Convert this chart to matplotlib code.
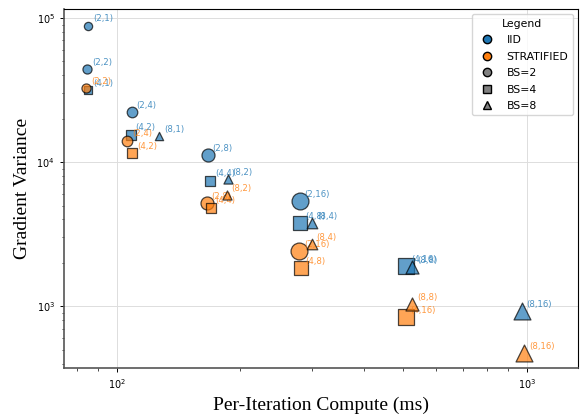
import numpy as np
import matplotlib
matplotlib.use("Agg")
import matplotlib.pyplot as plt
from matplotlib.lines import Line2D

# (batch size, k) configs, compute per iteration (ms), gradient variance
iid_bs = [2, 2, 4, 2, 4, 8, 2, 4, 8, 2, 4, 8, 4, 8, 8]
iid_k = [1, 2, 1, 4, 2, 1, 8, 4, 2, 16, 8, 4, 16, 8, 16]
iid_ms = [85.3, 84.8, 85.1, 108.8, 108.2, 126.8, 166.9, 168.8, 186.4,
          279.5, 280.6, 300.2, 508.6, 524.8, 972]
iid_var = [88840, 44450, 31780, 22240, 15550, 15230, 11180, 7450, 7620,
           5410, 3770, 3806, 1905, 1866, 932]

strat_bs = [2, 2, 4, 2, 4, 8, 2, 4, 8, 4, 8, 8]
strat_k = [2, 4, 2, 8, 4, 2, 16, 8, 4, 16, 8, 16]
strat_ms = [84.2, 106.1, 109.0, 165.7, 169.7, 185.4, 278.4, 281.1, 299.0,
            506.6, 526.0, 985.6]
strat_var = [32810, 14130, 11550, 5190, 4840, 5900, 2421, 1854, 2695,
             838, 1037, 476]

colors = {"IID": "#1f77b4", "STRATIFIED": "#ff7f0e"}
markers = {2: "o", 4: "s", 8: "^"}

fig = plt.figure(figsize=(5.87, 4.2), dpi=100)
ax = fig.add_axes([0.109, 0.124, 0.876, 0.855])

series = [("IID", iid_bs, iid_k, iid_ms, iid_var),
          ("STRATIFIED", strat_bs, strat_k, strat_ms, strat_var)]

for name, bss, ks, ms, var in series:
    c = colors[name]
    for bs, k, x, y in zip(bss, ks, ms, var):
        ax.scatter(x, y, s=28 + 7.5 * k, marker=markers[bs], color=c,
                   alpha=0.7, edgecolors="k", linewidths=0.9, zorder=3)
        ax.annotate(f"({bs},{k})", (x, y), xytext=(3.5, 1.5),
                    textcoords="offset points", fontsize=6.1, color=c,
                    alpha=0.8, ha="left", va="bottom")

ax.set_xscale("log")
ax.set_yscale("log")
ax.set_xlim(74.4, 1335)
ax.set_ylim(373, 116000)
ax.grid(True, which="major", color="#dddddd", linewidth=0.7)
ax.set_axisbelow(True)
ax.tick_params(labelsize=7, length=3, width=0.7)
ax.tick_params(which="minor", length=1.8, width=0.5)
for side in ["left", "bottom"]:
    ax.spines[side].set_color("#555555")
    ax.spines[side].set_linewidth(1.2)

serif = ["Liberation Serif", "DejaVu Serif"]
ax.set_xlabel("Per-Iteration Compute (ms)", fontsize=14, family=serif)
ax.set_ylabel("Gradient Variance", fontsize=14, family=serif)

handles = [
    Line2D([], [], ls="", marker="o", color=colors["IID"], mec="k", ms=6, label="IID"),
    Line2D([], [], ls="", marker="o", color=colors["STRATIFIED"], mec="k", ms=6, label="STRATIFIED"),
    Line2D([], [], ls="", marker="o", color="gray", mec="k", ms=6, label="BS=2"),
    Line2D([], [], ls="", marker="s", color="gray", mec="k", ms=6, label="BS=4"),
    Line2D([], [], ls="", marker="^", color="gray", mec="k", ms=6, label="BS=8"),
]
ax.legend(handles=handles, title="Legend", loc="upper right", fontsize=7.8,
          title_fontsize=7.8, labelspacing=0.6)

fig.savefig("out.png", dpi=100)
